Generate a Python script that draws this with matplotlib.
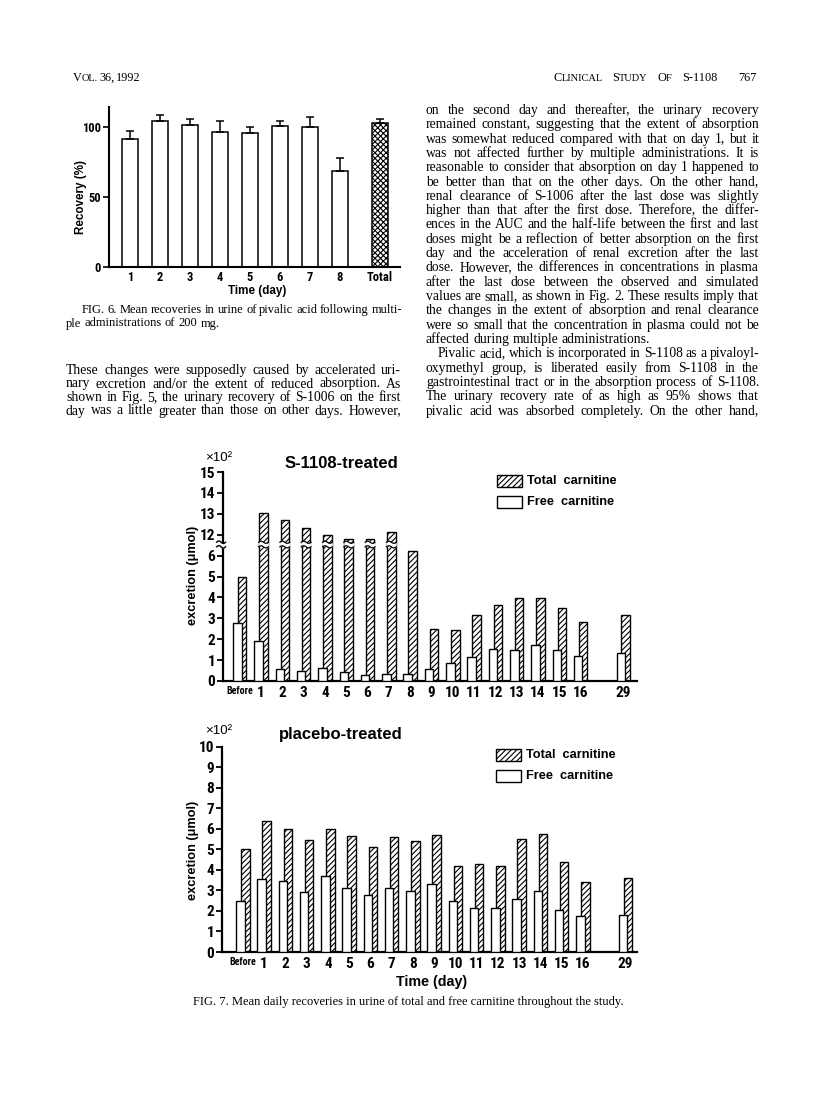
import matplotlib
matplotlib.use('Agg')
import matplotlib.pyplot as plt
from matplotlib import font_manager
from matplotlib.patches import Rectangle
import numpy as np

# ---------------------------------------------------------------- data
fig6_days = ['1', '2', '3', '4', '5', '6', '7', '8', 'Total']
fig6_recovery = [91.4, 104.0, 101.7, 96.4, 95.7, 101.0, 99.8, 68.8, 102.9]
fig6_sd = [5.5, 4.6, 4.3, 7.6, 4.5, 3.3, 7.2, 8.8, 3.1]
fig6_yticks = [0, 50, 100]

fig7_days = ['Before', '1', '2', '3', '4', '5', '6', '7', '8', '9', '10',
             '11', '12', '13', '14', '15', '16', '29']
s1108_total = [5.0, 13.05, 12.69, 12.32, 11.97, 11.81, 11.81, 12.13, 6.2,
               2.5, 2.45, 3.18, 3.62, 3.95, 3.98, 3.5, 2.8, 3.17]
s1108_free = [2.76, 1.93, 0.57, 0.5, 0.61, 0.42, 0.28, 0.33, 0.35,
              0.57, 0.86, 1.17, 1.54, 1.5, 1.71, 1.48, 1.2, 1.33]
s1108_ytick_labels = ['0', '1', '2', '3', '4', '5', '6', '12', '13', '14', '15']

placebo_total = [5.0, 6.4, 5.98, 5.47, 6.0, 5.64, 5.11, 5.61, 5.4, 5.71,
                 4.2, 4.28, 4.18, 5.51, 5.75, 4.4, 3.39, 3.62]
placebo_free = [2.47, 3.54, 3.47, 2.91, 3.7, 3.1, 2.78, 3.12, 2.99, 3.33,
                2.47, 2.15, 2.12, 2.58, 2.98, 2.04, 1.76, 1.82]
placebo_ytick_labels = ['0', '1', '2', '3', '4', '5', '6', '7', '8', '9', '10']

# small-caps headers: words made of (text, is_capital) pieces
header_left = [[('V', True), ('OL.', False)], [('36,', True)], [('1992', True)]]
header_right = [[('C', True), ('LINICAL', False)], [('S', True), ('TUDY', False)],
                [('O', True), ('F', False)], [('S-1108', True)]]
page_number = '767'

fig6_caption = ['FIG. 6. Mean recoveries in urine of pivalic acid following multi-',
                'ple administrations of 200 mg.']
fig7_caption = 'FIG. 7. Mean daily recoveries in urine of total and free carnitine throughout the study.'

left_col = [
    'These changes were supposedly caused by accelerated uri-',
    'nary excretion and/or the extent of reduced absorption. As',
    'shown in Fig. 5, the urinary recovery of S-1006 on the first',
    'day was a little greater than those on other days. However,',
]
right_col = [
    'on the second day and thereafter, the urinary recovery',
    'remained constant, suggesting that the extent of absorption',
    'was somewhat reduced compared with that on day 1, but it',
    'was not affected further by multiple administrations. It is',
    'reasonable to consider that absorption on day 1 happened to',
    'be better than that on the other days. On the other hand,',
    'renal clearance of S-1006 after the last dose was slightly',
    'higher than that after the first dose. Therefore, the differ-',
    'ences in the AUC and the half-life between the first and last',
    'doses might be a reflection of better absorption on the first',
    'day and the acceleration of renal excretion after the last',
    'dose. However, the differences in concentrations in plasma',
    'after the last dose between the observed and simulated',
    'values are small, as shown in Fig. 2. These results imply that',
    'the changes in the extent of absorption and renal clearance',
    'were so small that the concentration in plasma could not be',
    'affected during multiple administrations.',
    'Pivalic acid, which is incorporated in S-1108 as a pivaloyl-',
    'oxymethyl group, is liberated easily from S-1108 in the',
    'gastrointestinal tract or in the absorption process of S-1108.',
    'The urinary recovery rate of as high as 95% shows that',
    'pivalic acid was absorbed completely. On the other hand,',
]
right_par_end = {16}
right_indent = {17}

# ---------------------------------------------------------------- setup
W, H = 816, 1094
plt.rcParams['hatch.linewidth'] = 0.8
fig = plt.figure(figsize=(W / 100, H / 100), dpi=100)
fig.patch.set_facecolor('white')
renderer = fig.canvas.get_renderer()

SERIF = 'Liberation Serif'
SANS = 'Liberation Sans'


def pick_narrow():
    entries = font_manager.fontManager.ttflist
    names = {f.name for f in entries}
    if 'Liberation Sans Narrow' in names:
        return {'family': 'Liberation Sans Narrow'}, 1.0
    for nm in ['Roboto Condensed', 'Open Sans Condensed', 'Noto Sans Condensed']:
        if nm in names:
            return {'family': nm}, 1.0
    for f in entries:
        if f.name == 'DejaVu Sans' and str(f.stretch) in ('condensed', 'semi-condensed', '75', '87'):
            return {'family': 'DejaVu Sans', 'stretch': 'condensed'}, 0.92
    return {'family': 'Liberation Sans'}, 0.9


NARROW, NSC = pick_narrow()


def fx(x):
    return x / W


def fy(y):
    return 1 - y / H


def axes_px(x0, ytop, x1, ybot):
    return fig.add_axes([x0 / W, 1 - ybot / H, (x1 - x0) / W, (ybot - ytop) / H])


def text_width(s, size, family=SERIF, weight='normal'):
    t = fig.text(0, 0, s, fontsize=size, family=family, weight=weight)
    w = t.get_window_extent(renderer).width
    t.remove()
    return w


def set_line(line, x0, x1, ybase, size, justify):
    words = line.split()
    texts = [fig.text(0, 0, w, fontsize=size, family=SERIF, va='baseline', ha='left')
             for w in words]
    widths = [t.get_window_extent(renderer).width for t in texts]
    space = text_width('a a', size) - text_width('aa', size)
    if justify and len(words) > 1:
        gap = (x1 - x0 - sum(widths)) / (len(words) - 1)
    else:
        gap = space
    x = x0
    for t, w in zip(texts, widths):
        t.set_position((fx(x), fy(ybase)))
        x += w + gap


def small_caps(words, x0, x1, ybase, big=8.8, small=7.5):
    # words spread over the measured span, letters in small capitals
    wl = []
    for word in words:
        wl.append([text_width(p if cap else p.upper(), big if cap else small)
                   for p, cap in word])
    total = sum(sum(w) for w in wl)
    gap = (x1 - x0 - total) / max(len(words) - 1, 1)
    x = x0
    for word, ws in zip(words, wl):
        for (p, cap), w in zip(word, ws):
            fig.text(fx(x), fy(ybase), p if cap else p.upper(),
                     fontsize=big if cap else small, family=SERIF, va='baseline')
            x += w
        x += gap


# body font size fitted to the column width
COLW = 333.0
nat = [text_width(l, 10) for l in left_col + right_col]
BODY = 10 * COLW / max(nat) * 0.995

# ---------------------------------------------------------------- page text
small_caps(header_left, 73, 140, 81)
small_caps(header_right, 553, 717, 81)
fig.text(fx(757), fy(81), page_number, fontsize=8.8, family=SERIF, va='baseline', ha='right')

LX0, LX1 = 66, 401
RX0, RX1 = 426, 759
for i, line in enumerate(right_col):
    yb = 111 + 3 + 14.31 * i
    x0 = RX0 + (12 if i in right_indent else 0)
    set_line(line, x0, RX1, yb, BODY, justify=(i not in right_par_end))
for i, line in enumerate(left_col):
    yb = 371 + 3 + 13.5 * i
    set_line(line, LX0, LX1, yb, BODY, justify=True)

CAP = 10 * 432 / text_width(fig7_caption, 10)
set_line(fig6_caption[0], 82, 402, 313, CAP, justify=True)
set_line(fig6_caption[1], 66, 402, 326.5, CAP, justify=False)
fig.text(fx(193), fy(1004.5), fig7_caption, fontsize=CAP, family=SERIF, va='baseline')


def style_axes(ax, lw=1.6):
    for s in ['top', 'right']:
        ax.spines[s].set_visible(False)
    for s in ['left', 'bottom']:
        ax.spines[s].set_linewidth(lw)
    ax.patch.set_alpha(0)


def style_ticklabels(labels, size):
    for lab in labels:
        lab.set_fontproperties(font_manager.FontProperties(weight='bold', size=size, **NARROW))


# ---------------------------------------------------------------- Fig. 6
ax6 = axes_px(109, 107, 400, 267)
style_axes(ax6, 1.5)
x6 = np.array(list(range(1, 9)) + [9.33])
rec = np.array(fig6_recovery)
ax6.bar(x6[:8], rec[:8], width=0.53, color='white', edgecolor='black', lw=1.1, zorder=2)
ax6.bar(x6[8:], rec[8:], width=0.53, color='white', edgecolor='black', lw=1.1,
        hatch='xxxxxx', zorder=2)
ax6.errorbar(x6, rec, yerr=[np.zeros(len(rec)), fig6_sd], fmt='none', ecolor='black',
             elinewidth=1.1, capsize=2.6, capthick=1.1, zorder=3)
ax6.set_xlim(0.31, 10.0)
ax6.set_ylim(0, 114.3)
ax6.set_yticks(fig6_yticks)
ax6.set_yticklabels([str(v) for v in fig6_yticks])
ax6.set_xticks(x6)
ax6.set_xticklabels(fig6_days)
style_ticklabels(ax6.get_yticklabels(), 9 * NSC)
style_ticklabels(ax6.get_xticklabels(), 9 * NSC)
ax6.tick_params(axis='y', direction='out', length=4.5, width=1.2, pad=1.5)
ax6.tick_params(axis='x', length=0, pad=3)
fig.text(fx(257), fy(291), 'Time (day)', fontsize=8.4, family=SANS, weight='bold',
         ha='center', va='center')
fig.text(fx(81), fy(197), 'Recovery (%)', fontsize=8.4, family=SANS, weight='bold',
         ha='center', va='center', rotation=90)


# ---------------------------------------------------------------- Fig. 7
def disp(v, broken):
    v = float(v)
    return v - 5 if (broken and v > 9) else v


slots = np.array([0] + list(range(1, 17)) + [18], dtype=float)
BW = 0.40
OFF_F, OFF_T = -0.11, 0.12


def panel(ax, total, free, ylabels, broken):
    style_axes(ax, 1.6)
    tot = np.array([disp(v, broken) for v in total])
    ax.bar(slots + OFF_T, tot, width=BW, color='white', edgecolor='black', lw=1.0,
           hatch='//////', zorder=2)
    ax.bar(slots + OFF_F, free, width=BW, color='white', edgecolor='black', lw=1.0,
           zorder=3)
    ax.set_ylim(0, 10)
    ax.set_yticks([disp(l, broken) for l in ylabels])
    ax.set_yticklabels(ylabels)
    ax.set_xticks(slots)
    ax.set_xticklabels(fig7_days)
    style_ticklabels(ax.get_yticklabels(), 11 * NSC)
    style_ticklabels(ax.get_xticklabels(), 11 * NSC)
    for lab in ax.get_xticklabels():
        if lab.get_text() == 'Before':
            lab.set_fontsize(7.2 * NSC)
    ax.tick_params(axis='y', direction='out', length=4.5, width=1.3, pad=1.0)
    ax.tick_params(axis='x', length=0, pad=3.5)
    if broken:
        y0, y1 = 6.42, 6.64
        for xc, t in zip(slots + OFF_T, tot):
            if t > y1:
                xs = np.linspace(xc - BW / 2 - 0.03, xc + BW / 2 + 0.03, 40)
                ph = 2 * np.pi * (xs - xs[0]) / (xs[-1] - xs[0])
                ax.fill_between(xs, y0 + 0.05 * np.sin(ph), y1 + 0.05 * np.sin(ph),
                                color='white', zorder=4, lw=0)
                ax.plot(xs, y0 + 0.05 * np.sin(ph), color='black', lw=0.9, zorder=5)
                ax.plot(xs, y1 + 0.05 * np.sin(ph), color='black', lw=0.9, zorder=5)
        xl = ax.get_xlim()[0]
        xs = np.linspace(xl - 0.3, xl + 0.12, 30)
        ph = 2 * np.pi * (xs - xs[0]) / (xs[-1] - xs[0])
        ax.fill_between(xs, y0 + 0.06 * np.sin(ph), y1 + 0.06 * np.sin(ph),
                        color='white', zorder=6, lw=0, clip_on=False)
        ax.plot(xs, y0 + 0.06 * np.sin(ph), color='black', lw=1.0, zorder=7, clip_on=False)
        ax.plot(xs, y1 + 0.06 * np.sin(ph), color='black', lw=1.0, zorder=7, clip_on=False)


axA = axes_px(223, 472, 637, 681)
axA.set_xlim(-0.78, 18.65)
panel(axA, s1108_total, s1108_free, s1108_ytick_labels, True)

axB = axes_px(222, 746.7, 637, 952)
axB.set_xlim(-0.98, 18.55)
panel(axB, placebo_total, placebo_free, placebo_ytick_labels, False)


def legend_px(x, ytop):
    fig.add_artist(Rectangle((fx(x), fy(ytop + 12)), 25 / W, 12 / H,
                             transform=fig.transFigure, facecolor='white',
                             edgecolor='black', lw=1.0, hatch='//////'))
    fig.text(fx(x + 30), fy(ytop + 6), 'Total  carnitine', fontsize=9.2, family=SANS,
             weight='bold', va='center')
    fig.add_artist(Rectangle((fx(x), fy(ytop + 33)), 25 / W, 12 / H,
                             transform=fig.transFigure, facecolor='white',
                             edgecolor='black', lw=1.0))
    fig.text(fx(x + 30), fy(ytop + 27), 'Free  carnitine', fontsize=9.2, family=SANS,
             weight='bold', va='center')


legend_px(497, 475)
legend_px(496, 749)

for ytitle, title, ymult in [(464, 'S-1108-treated', 458), (735, 'placebo-treated', 731)]:
    fig.text(fx(341), fy(ytitle), title, fontsize=12, family=SANS, weight='bold',
             ha='center', va='center')
    fig.text(fx(205), fy(ymult), '\u00d710\u00b2', fontsize=9.6, family=SANS,
             ha='left', va='center')

fig.text(fx(193), fy(575), 'excretion (\u03bcmol)', fontsize=9.2, family=SANS,
         weight='bold', rotation=90, ha='center', va='center')
fig.text(fx(193), fy(850), 'excretion (\u03bcmol)', fontsize=9.2, family=SANS,
         weight='bold', rotation=90, ha='center', va='center')
fig.text(fx(432), fy(982), 'Time (day)', fontsize=10.3, family=SANS, weight='bold',
         ha='center', va='center')

fig.savefig('out.png', dpi=100, facecolor='white')
